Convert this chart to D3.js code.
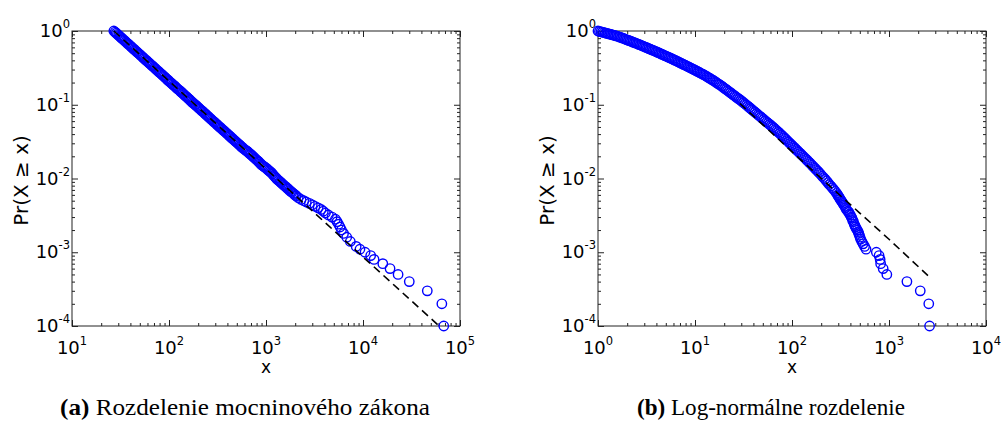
<!DOCTYPE html>
<html>
<head>
<meta charset="utf-8">
<script src="https://cdn.jsdelivr.net/npm/d3@7/dist/d3.min.js"></script>
<style>
body { margin: 0; background: #fff; }
text { font-family: "DejaVu Sans", sans-serif; fill: #000; }
.caption { font-family: "Liberation Serif", serif; }
</style>
</head>
<body>
<div id="chart-area"></div>
<script>

// ---- DATA ----

// tick decades
var yTicks = [1e-4, 1e-3, 1e-2, 1e-1, 1e0];
var plawTicksX = [1e1, 1e2, 1e3, 1e4, 1e5];
var lognTicksX = [1e0, 1e1, 1e2, 1e3, 1e4];

// (a) power law: empirical CCDF
var plawX = [27, 27.8, 28.6, 29.4, 30.3, 31.2, 32.1, 33.0, 34, 35, 36, 37.0, 38.1, 39.2, 40.4, 41.6,
  42.8, 44.0, 45.3, 46.6, 48, 49.4, 50.8, 52.3, 53.8, 55.4, 57, 58.7, 60.4, 62.2, 64, 65.9, 67.8,
  69.8, 71.8, 73.9, 76, 78.2, 80.5, 82.9, 85.3, 87.8, 90.3, 93.0, 95.7, 98.3, 101, 104, 107, 110.5,
  114, 117, 120, 124, 128, 131.5, 135, 139, 143, 147.5, 152, 156.5, 161, 165.5, 170, 175, 180,
  185.5, 191, 196.5, 202, 208, 214, 220.5, 227, 233.5, 240, 247, 254, 261.5, 269, 277, 285, 293.5,
  302, 311, 320, 329.5, 339, 349, 359, 369.5, 380, 391.5, 403, 415, 427, 439.5, 452, 465.5, 479,
  493, 507, 522, 537, 553, 569, 586, 603, 620.5, 638, 657, 676, 696, 716, 737.5, 759, 781.5, 804,
  827.5, 851, 876.5, 902, 928.5, 955, 983.5, 1012, 1042, 1072, 1103, 1135, 1168, 1202, 1238, 1274,
  1311, 1349, 1389, 1429, 1471, 1514, 1559, 1604, 1651, 1699, 1750, 1800, 1853, 1906, 1962, 2019,
  2050, 2150, 2300, 2450, 2600, 2800, 3000, 3200, 3450, 3700, 3900, 4100, 4400, 4800, 5200,
  5400, 5600, 5800, 6000, 6300, 6800, 7400, 8500, 9300,
  10500, 12000, 13000, 16000, 19000, 23000, 30000, 46000, 65000, 68000];
var plawY = [1.0, 0.966, 0.934, 0.902, 0.872, 0.842, 0.814, 0.787, 0.760, 0.735, 0.710, 0.686,
  0.663, 0.641, 0.619, 0.598, 0.578, 0.559, 0.540, 0.522, 0.504, 0.487, 0.470, 0.454, 0.439, 0.424,
  0.410, 0.396, 0.383, 0.370, 0.357, 0.345, 0.334, 0.323, 0.312, 0.301, 0.291, 0.281, 0.272, 0.263,
  0.254, 0.245, 0.237, 0.229, 0.221, 0.214, 0.207, 0.200, 0.193, 0.186, 0.180, 0.174, 0.168, 0.162,
  0.157, 0.152, 0.147, 0.142, 0.137, 0.132, 0.128, 0.123, 0.119, 0.115, 0.111, 0.107, 0.104, 0.1005,
  0.0972, 0.0939, 0.0907, 0.0876, 0.0847, 0.0818, 0.0791, 0.0765, 0.0739, 0.0714, 0.0690, 0.0667,
  0.0644, 0.0622, 0.0601, 0.0581, 0.0561, 0.0542, 0.0524, 0.0506, 0.0489, 0.0473, 0.0457, 0.0442,
  0.0427, 0.0412, 0.0398, 0.0385, 0.0372, 0.0359, 0.0347, 0.0335, 0.0324, 0.0313, 0.0303, 0.0293,
  0.0283, 0.0273, 0.0264, 0.0255, 0.0247, 0.0241, 0.0235, 0.0227, 0.0219, 0.0212, 0.0205, 0.0198,
  0.0191, 0.0184, 0.0178, 0.0172, 0.0166, 0.0159, 0.0153, 0.0149, 0.0145, 0.0141, 0.0137, 0.0132,
  0.0128, 0.0124, 0.0120, 0.0115, 0.0110, 0.0105, 0.0101, 0.0097, 0.0094, 0.0091, 0.0088, 0.0085,
  0.0082, 0.0079, 0.0077, 0.0074, 0.0072, 0.0069, 0.0067, 0.0065, 0.0063, 0.0061, 0.0059,
  0.0058, 0.0055, 0.0052, 0.0050, 0.0048, 0.0046, 0.0044, 0.0042, 0.0040, 0.0038, 0.0036, 0.0034,
  0.0032, 0.0030, 0.0028, 0.0026, 0.0024, 0.0022, 0.0020, 0.0018, 0.0016, 0.0014, 0.0012, 0.0011,
  0.0010, 0.0009, 0.0008, 0.0007, 0.0006, 0.0005, 0.0004, 0.0003, 0.0002, 0.0001];
// power-law fit
var plawFitX = [27, 61000];
var plawFitY = [1, 1e-4];

// (b) log-normal: empirical CCDF
var lognX = [1.00, 1.035, 1.072, 1.109, 1.148, 1.189, 1.230, 1.273, 1.318, 1.365, 1.413, 1.462,
  1.514, 1.567, 1.622, 1.679, 1.738, 1.799, 1.862, 1.928, 1.995, 2.065, 2.138, 2.213, 2.291, 2.371,
  2.455, 2.541, 2.630, 2.723, 2.818, 2.917, 3.020, 3.126, 3.236, 3.350, 3.467, 3.589, 3.715, 3.846,
  3.981, 4.121, 4.266, 4.416, 4.571, 4.732, 4.898, 5.070, 5.248, 5.433, 5.623, 5.821, 6.026, 6.237,
  6.457, 6.683, 6.918, 7.161, 7.413, 7.674, 7.943, 8.222, 8.511, 8.810, 9.120, 9.441, 9.772, 10.12,
  10.47, 10.84, 11.22, 11.61, 12.02, 12.44, 12.88, 13.34, 13.80, 14.29, 14.79, 15.31, 15.85, 16.41,
  16.98, 17.58, 18.20, 18.84, 19.50, 20.18, 20.89, 21.63, 22.39, 23.17, 23.99, 24.83, 25.70, 26.61,
  27.54, 28.51, 29.51, 30.55, 31.62, 32.73, 33.88, 35.08, 36.31, 37.58, 38.90, 40.27, 41.69, 43.15,
  44.67, 46.24, 47.86, 49.55, 51.29, 53.09, 54.95, 56.89, 58.88, 60.95, 63.10, 65.31, 67.61, 69.98,
  72.44, 74.99, 77.62, 80.35, 83.18, 86.10, 89.13, 92.26, 95.50, 98.86, 102.3, 105.9, 109.6, 113.5,
  117.5, 121.6, 125.9, 130.3, 134.9, 139.6, 144.5, 149.6, 154.9, 160.3, 166.0, 171.8, 177.8, 184.1,
  190.5, 197.2, 204.2, 211.3, 218.8, 226.5, 234.4, 242.7, 251.2, 260.0, 269.2, 278.6, 288.4,
  295, 300, 305, 310, 316, 322, 328, 335, 342, 350, 357, 365, 375, 385, 392, 400, 408, 415, 422,
  430, 438, 445, 452, 460, 470, 480, 488, 495, 503, 510, 525, 540, 560, 580,
  740, 790, 810, 820, 870, 950, 1530, 2100, 2570, 2620];
var lognY = [1.000, 0.988, 0.976, 0.964, 0.953, 0.941, 0.930, 0.919, 0.908, 0.897, 0.886, 0.875,
  0.865, 0.853, 0.841, 0.827, 0.813, 0.799, 0.785, 0.772, 0.759, 0.746, 0.733, 0.720, 0.708, 0.696,
  0.684, 0.671, 0.659, 0.647, 0.635, 0.623, 0.611, 0.599, 0.588, 0.577, 0.566, 0.555, 0.545, 0.535,
  0.525, 0.514, 0.504, 0.493, 0.483, 0.473, 0.463, 0.454, 0.445, 0.436, 0.427, 0.418, 0.409, 0.400,
  0.392, 0.383, 0.375, 0.366, 0.358, 0.350, 0.343, 0.335, 0.328, 0.320, 0.313, 0.306, 0.300, 0.293,
  0.286, 0.279, 0.272, 0.265, 0.259, 0.253, 0.247, 0.240, 0.233, 0.227, 0.221, 0.215, 0.209, 0.202,
  0.196, 0.190, 0.185, 0.179, 0.173, 0.167, 0.162, 0.156, 0.151, 0.146, 0.141, 0.136, 0.132, 0.127,
  0.123, 0.119, 0.115, 0.111, 0.107, 0.103, 0.0993, 0.0956, 0.0920, 0.0886, 0.0853, 0.0821, 0.0791,
  0.0761, 0.0733, 0.0705, 0.0679, 0.0654, 0.0630, 0.0606, 0.0583, 0.0562, 0.0541, 0.0521, 0.0501,
  0.0481, 0.0461, 0.0443, 0.0425, 0.0408, 0.0391, 0.0374, 0.0358, 0.0342, 0.0327, 0.0313, 0.0299,
  0.0286, 0.0274, 0.0262, 0.0250, 0.0239, 0.0229, 0.0219, 0.0209, 0.0200, 0.0191, 0.0183, 0.0175,
  0.0167, 0.0160, 0.0152, 0.0145, 0.0138, 0.0132, 0.0126, 0.0120, 0.0114, 0.0108, 0.0103, 0.0098,
  0.0093, 0.0088, 0.0083, 0.0079, 0.0075, 0.0071, 0.0067, 0.0063,
  0.0060, 0.0058, 0.0056, 0.0054, 0.0052, 0.0050, 0.0048, 0.0046, 0.0044, 0.0042, 0.0040, 0.0038,
  0.0036, 0.0035, 0.0033, 0.0032, 0.0030, 0.0029, 0.0027, 0.0026, 0.0024, 0.0023, 0.0022, 0.0021,
  0.0020, 0.0019, 0.0018, 0.0017, 0.0016, 0.0015, 0.0014, 0.0013, 0.0012, 0.0011,
  0.0010, 0.0009, 0.0008, 0.0007, 0.0006, 0.0005, 0.0004, 0.0003, 0.0002, 0.0001];
// log-normal fit
var lognFitX = [29, 60, 120, 250, 500, 1000, 2570];
var lognFitY = [0.104, 0.043, 0.0185, 0.0077, 0.0034, 0.0015, 0.00047];

// ---- DRAWING ----

var svg = d3.select("#chart-area").append("svg")
    .attr("width", 1001)
    .attr("height", 428);

var top0 = 31, bottom0 = 326;

drawPanel({left: 72, right: 460, xTicks: plawTicksX,
    xs: plawX, ys: plawY, fitX: plawFitX, fitY: plawFitY,
    tag: "(a)", caption: " Rozdelenie mocninového zákona", capLen: 370});

drawPanel({left: 598, right: 986, xTicks: lognTicksX,
    xs: lognX, ys: lognY, fitX: lognFitX, fitY: lognFitY,
    tag: "(b)", caption: " Log-normálne rozdelenie", capLen: 268});

function minorTicks(decades) {
    var out = [];
    for (var i = 0; i < decades.length - 1; i++) {
        for (var m = 2; m <= 9; m++) out.push(decades[i] * m);
    }
    return out;
}

function drawPanel(p) {
    var g = svg.append("g");

    var x = d3.scaleLog()
        .domain([p.xTicks[0], p.xTicks[p.xTicks.length - 1]])
        .range([p.left, p.right]);
    var y = d3.scaleLog()
        .domain([yTicks[0], yTicks[yTicks.length - 1]])
        .range([bottom0, top0]);

    var xMinor = minorTicks(p.xTicks), yMinor = minorTicks(yTicks);

    // inward ticks on all four sides
    function addAxis(axisFn, scale, vals, size, transform) {
        var a = g.append("g")
            .attr("transform", transform)
            .call(axisFn(scale).tickValues(vals).tickSize(-size).tickFormat(""));
        a.select(".domain").remove();
        a.selectAll("line").attr("stroke", "#222");
    }
    [[p.xTicks, 6], [xMinor, 3]].forEach(function(t) {
        addAxis(d3.axisBottom, x, t[0], t[1], "translate(0," + bottom0 + ")");
        addAxis(d3.axisTop, x, t[0], t[1], "translate(0," + top0 + ")");
    });
    [[yTicks, 6], [yMinor, 3]].forEach(function(t) {
        addAxis(d3.axisLeft, y, t[0], t[1], "translate(" + p.left + ",0)");
        addAxis(d3.axisRight, y, t[0], t[1], "translate(" + p.right + ",0)");
    });

    g.append("rect")
        .attr("x", p.left).attr("y", top0)
        .attr("width", p.right - p.left).attr("height", bottom0 - top0)
        .attr("fill", "none").attr("stroke", "#222").attr("stroke-width", 1);

    // tick labels 10^n
    g.selectAll(".xlab").data(p.xTicks).enter().append("text")
        .attr("class", "xlab")
        .attr("x", function(d) { return x(d); })
        .attr("y", 354)
        .attr("text-anchor", "middle")
        .attr("font-size", 18)
        .each(function(d) {
            var t = d3.select(this);
            t.append("tspan").text("10");
            t.append("tspan").attr("dy", -9).attr("font-size", 11.5)
                .text(Math.round(Math.log10(d)));
        });

    g.selectAll(".ylab").data(yTicks).enter().append("text")
        .attr("class", "ylab")
        .attr("x", p.left - 2)
        .attr("y", function(d) { return y(d) + 6; })
        .attr("text-anchor", "end")
        .attr("font-size", 18)
        .each(function(d) {
            var t = d3.select(this);
            t.append("tspan").text("10");
            t.append("tspan").attr("dy", -9).attr("font-size", 11.5)
                .text(Math.round(Math.log10(d)));
        });

    var cx = (p.left + p.right) / 2;

    g.append("text")
        .attr("x", cx).attr("y", 373)
        .attr("text-anchor", "middle")
        .attr("font-size", 17)
        .text("x");

    g.append("text")
        .attr("transform", "translate(" + (p.left - 44) + "," + ((top0 + bottom0) / 2 + 2) + ") rotate(-90)")
        .attr("text-anchor", "middle")
        .attr("font-size", 20)
        .text("Pr(X \u2265 x)");

    // data circles
    var pts = p.xs.map(function(d, i) { return {x: d, y: p.ys[i]}; });
    g.selectAll("circle").data(pts).enter().append("circle")
        .attr("cx", function(d) { return x(d.x); })
        .attr("cy", function(d) { return y(d.y); })
        .attr("r", 4.7)
        .attr("fill", "none")
        .attr("stroke", "#0000ff")
        .attr("stroke-width", 1.4);

    // fitted line
    var fit = p.fitX.map(function(d, i) { return {x: d, y: p.fitY[i]}; });
    var drawLine = d3.line()
        .x(function(d) { return x(d.x); })
        .y(function(d) { return y(d.y); });
    g.append("path")
        .attr("d", drawLine(fit))
        .attr("fill", "none")
        .attr("stroke", "#000")
        .attr("stroke-width", 1.6)
        .attr("stroke-dasharray", "8,5");

    // caption
    var cap = g.append("text")
        .attr("class", "caption")
        .attr("x", cx - 21).attr("y", 415)
        .attr("text-anchor", "middle")
        .attr("font-size", 23)
        .attr("textLength", p.capLen)
        .attr("lengthAdjust", "spacingAndGlyphs");
    cap.append("tspan").attr("font-weight", "bold").text(p.tag);
    cap.append("tspan").text(p.caption);
}
</script>
</body>
</html>
